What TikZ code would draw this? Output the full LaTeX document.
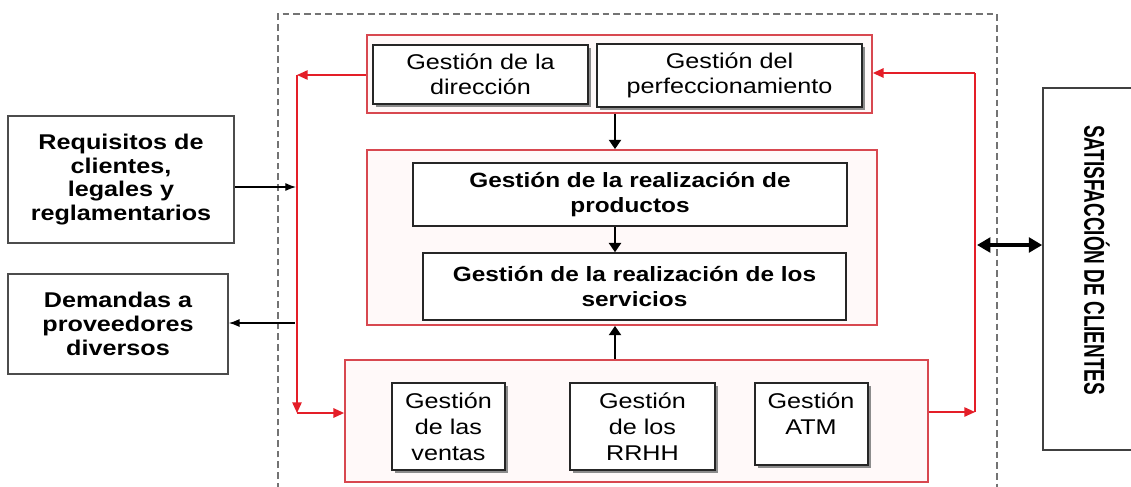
\documentclass[tikz,border=0pt]{standalone}
\usepackage{fontspec}
\setmainfont[FakeStretch=1.18]{Liberation Sans}
\newfontfamily\satfont[FakeStretch=0.66]{Liberation Sans}
\usetikzlibrary{fit,arrows.meta,shadows}
\definecolor{rline}{HTML}{E41E28}
\definecolor{rbox}{HTML}{D84850}
\definecolor{rfill}{HTML}{FFF9F9}
\begin{document}
\begin{tikzpicture}[x=0.75pt,y=-0.75pt,
  redbox/.style={draw=rbox,line width=1.3pt,fill=rfill,inner sep=0pt},
  ibox/.style={draw=black!85,line width=1.1pt,fill=white,inner sep=0pt,align=center,
    font=\fontsize{16}{18.5}\selectfont,
    drop shadow={shadow xshift=2pt,shadow yshift=-2pt,fill=black!45,opacity=1}},
  pbox/.style={draw=black!85,line width=1.1pt,fill=white,inner sep=0pt,align=center,
    font=\fontsize{15.5}{19}\selectfont\bfseries},
  lbox/.style={draw=black!70,line width=1.3pt,fill=white,inner sep=0pt,align=center,
    font=\fontsize{16}{17.5}\selectfont\bfseries},
  thinarrow/.style={draw=black,line width=0.9pt,-{Latex[length=8pt,width=6pt]}},
  thickarrow/.style={draw=black,line width=2.2pt,-{Triangle[length=7pt,width=9pt]}},
  redline/.style={draw=rline,line width=1.2pt},
  redarrow/.style={redline,-{Triangle[length=8pt,width=7pt]}}
]
\useasboundingbox (0,0) rectangle (1131,486);
\fill[white] (0,0) rectangle (1131,486);
% dashed frame
\draw[black!55,line width=0.8pt,dash pattern=on 5pt off 3pt] (278,500) -- (278,14) -- (997,14) -- (997,500);
% red group boxes
\node[redbox,fit={(367,35) (872,113)}] (T) {};
\node[redbox,fit={(367,150) (877,325)}] (M) {};
\node[redbox,fit={(345,360) (928,482)}] (Bx) {};
% top inner boxes
\node[ibox,fit={(373,45) (588,104)}] (dir) {};
\node at (dir.center) [align=center,font=\fontsize{16}{18.5}\selectfont] (dirt) {Gestión de la\\dirección};
\node[ibox,fit={(597,44) (862,107)}] (perf) {};
\node at (perf.center) [align=center,font=\fontsize{16}{18.5}\selectfont] (perft) {Gestión del\\perfeccionamiento};
% middle boxes
\node[pbox,fit={(413,163) (847,226)}] (prod) {};
\node at (prod.center) [align=center,font=\fontsize{15.5}{19}\selectfont\bfseries] (prodt) {Gestión de la realización de\\productos};
\node[pbox,fit={(423,253) (846,320)}] (serv) {};
\node at (serv.center) [align=center,font=\fontsize{15.5}{19}\selectfont\bfseries] (servt) {Gestión de la realización de los\\servicios};
% bottom inner boxes
\node[ibox,fit={(392,383) (505,470)}] (vent) {};
\node at (vent.center) [align=center,font=\fontsize{16}{19.5}\selectfont] (ventt) {Gestión\\de las\\ventas};
\node[ibox,fit={(570,383) (715,470)}] (rrhh) {};
\node at (rrhh.center) [align=center,font=\fontsize{16}{19.5}\selectfont] (rrhht) {Gestión\\de los\\RRHH};
\node[ibox,fit={(755,383) (868,465)}] (atm) {};
\node at (811,388) [anchor=north,align=center,font=\fontsize{16}{19.5}\selectfont] (atmt) {Gestión\\ATM};
% left boxes
\node[lbox,fit={(8,116) (234,243)}] (req) {};
\node at (req.center) [align=center,font=\fontsize{16}{17.8}\selectfont\bfseries] (reqt) {Requisitos de\\clientes,\\legales y\\reglamentarios};
\node[lbox,fit={(8,274) (228,374)}] (dem) {};
\node at (dem.center) [align=center,font=\fontsize{16}{17.8}\selectfont\bfseries] (demt) {Demandas a\\proveedores\\diversos};
% satisfaction box
\node[draw=black!75,line width=1.2pt,fill=white,inner sep=0pt,fit={(1043,88) (1145,450)}] (sat) {};
\node at (1097,260) [rotate=-90,font=\fontsize{21.5}{24}\selectfont\satfont\bfseries] (satt) {SATISFACCIÓN DE CLIENTES};
% coordinates
\coordinate (cL1) at (297,75);
\coordinate (cL2) at (297,413);
\coordinate (cR1) at (975,73);
\coordinate (cR2) at (975,412);
\coordinate (cRq) at (296,187);
\coordinate (cDm) at (295,323);
\coordinate (cS) at (977,245);
% black arrows
\draw[thickarrow] (T.south -| 615,0) -- (M.north -| 615,0);
\draw[thickarrow] (prod.south -| 615,0) -- (serv.north -| 615,0);
\draw[thickarrow] (Bx.north -| 615,0) -- (M.south -| 615,0);
\draw[thinarrow] (cRq -| req.east) -- (cRq);
\draw[thinarrow] (cDm) -- (cDm -| dem.east);
\draw[draw=black,line width=3pt,{Triangle[length=10pt,width=11pt]}-{Triangle[length=10pt,width=11pt]}] (cS) -- (cS -| sat.west);
% red feedback lines
\draw[redarrow] (cL1 -| T.west) -- (cL1);
\draw[redarrow] (cL1) -- (cL2);
\draw[redarrow] (cL2) -- (cL2 -| Bx.west);
\draw[redarrow] (cR2 -| Bx.east) -- (cR2);
\draw[redline] (cR2) -- (cR1);
\draw[redarrow] (cR1) -- (cR1 -| T.east);
\end{tikzpicture}
\end{document}
